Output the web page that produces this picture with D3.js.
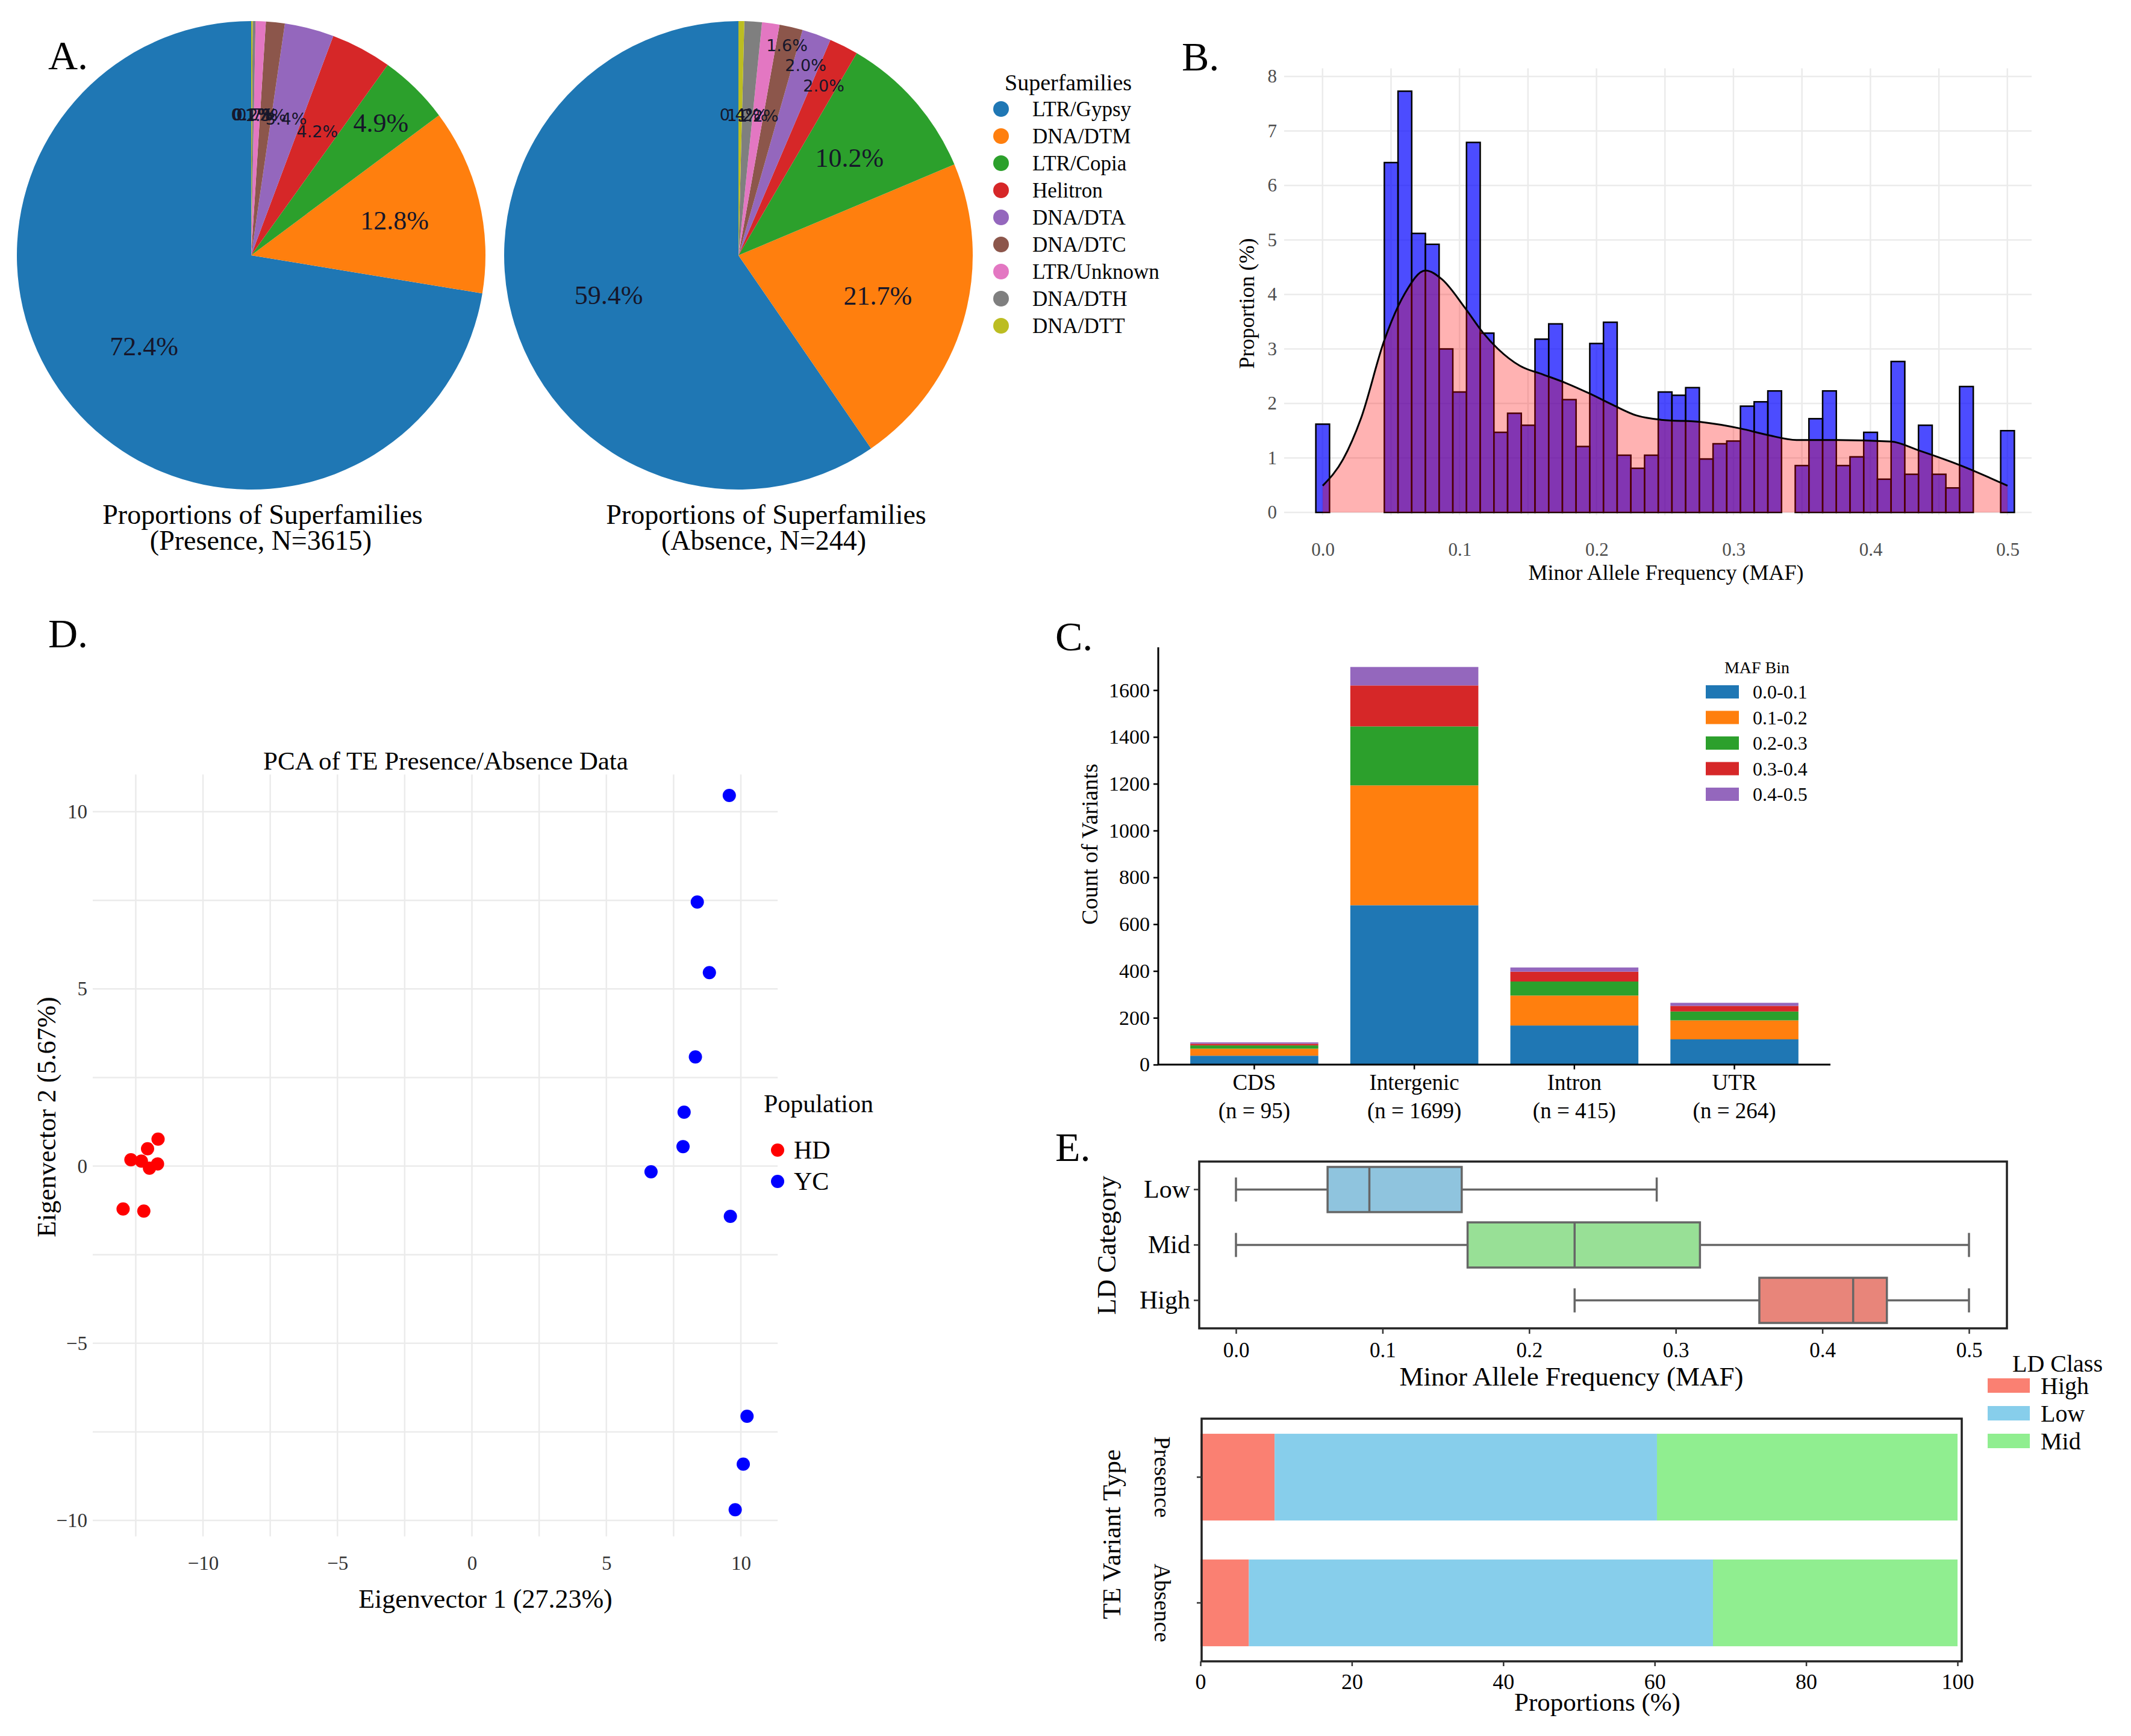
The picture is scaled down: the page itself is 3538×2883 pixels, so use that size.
<!DOCTYPE html>
<html>
<head>
<meta charset="utf-8">
<script src="https://cdn.jsdelivr.net/npm/d3@7"></script>
<style>
  body { margin: 0; background: #fff; }
  svg { display: block; font-family: "Liberation Serif", "Times New Roman", serif; }
</style>
</head>
<body>
<svg id="fig" width="3538" height="2883"></svg>
<script>
// **** data ****

// A. superfamily proportions (%)
var superfamilies = ['LTR/Gypsy', 'DNA/DTM', 'LTR/Copia', 'Helitron', 'DNA/DTA', 'DNA/DTC', 'LTR/Unknown', 'DNA/DTH', 'DNA/DTT'];
var presencePct = [72.4, 12.8, 4.9, 4.2, 3.4, 1.3, 0.7, 0.2, 0.1];
var absencePct = [59.4, 21.7, 10.2, 2.0, 2.0, 1.6, 1.2, 1.2, 0.4];

// B. MAF histogram (bin centres, proportion %) and density curve
var mafBins = [0.00, 0.01, 0.02, 0.03, 0.04, 0.05, 0.06, 0.07, 0.08, 0.09,
               0.10, 0.11, 0.12, 0.13, 0.14, 0.15, 0.16, 0.17, 0.18, 0.19,
               0.20, 0.21, 0.22, 0.23, 0.24, 0.25, 0.26, 0.27, 0.28, 0.29,
               0.30, 0.31, 0.32, 0.33, 0.34, 0.35, 0.36, 0.37, 0.38, 0.39,
               0.40, 0.41, 0.42, 0.43, 0.44, 0.45, 0.46, 0.47, 0.48, 0.49, 0.50];
var mafProp = [1.62, 0, 0, 0, 0, 6.42, 7.73, 5.12, 4.92, 3.00,
               2.21, 6.79, 3.29, 1.47, 1.82, 1.60, 3.18, 3.46, 2.07, 1.21,
               3.10, 3.49, 1.05, 0.81, 1.05, 2.21, 2.15, 2.29, 0.98, 1.26,
               1.31, 1.95, 2.03, 2.23, 0, 0.86, 1.72, 2.23, 0.86, 1.02,
               1.47, 0.61, 2.77, 0.70, 1.60, 0.70, 0.45, 2.31, 0, 0, 1.50];
var densX = [0, 0.015, 0.028, 0.045, 0.060, 0.075, 0.087, 0.104, 0.117, 0.128, 0.144, 0.161, 0.178,
             0.195, 0.212, 0.229, 0.247, 0.276, 0.305, 0.325, 0.346, 0.376, 0.415, 0.435, 0.467, 0.500];
var densY = [0.49, 0.98, 1.73, 3.16, 4.02, 4.44, 4.28, 3.75, 3.30, 3.00, 2.69, 2.53, 2.37,
             2.18, 1.97, 1.78, 1.70, 1.66, 1.54, 1.42, 1.33, 1.33, 1.30, 1.14, 0.85, 0.49];

// C. variant counts per region and MAF bin
var regions = ['CDS', 'Intergenic', 'Intron', 'UTR'];
var regionN = [95, 1699, 415, 264];
var mafBinNames = ['0.0-0.1', '0.1-0.2', '0.2-0.3', '0.3-0.4', '0.4-0.5'];
var countCDS = [38, 30, 14, 7, 6];
var countIntergenic = [681, 512, 252, 175, 79];
var countIntron = [167, 128, 60, 42, 18];
var countUTR = [108, 81, 38, 24, 13];

// D. PCA scores
var hdPC1 = [-12.68, -12.06, -11.67, -12.29, -11.99, -11.69, -12.97, -12.20];
var hdPC2 = [0.18, 0.49, 0.76, 0.14, -0.06, 0.06, -1.21, -1.27];
var ycPC1 = [9.57, 8.38, 8.83, 8.31, 7.89, 7.85, 6.66, 9.61, 10.23, 10.09, 9.79];
var ycPC2 = [10.46, 7.45, 5.46, 3.08, 1.52, 0.55, -0.16, -1.42, -7.06, -8.41, -9.70];

// E. MAF by LD category (box stats) and LD class proportions
var ldCats = ['Low', 'Mid', 'High'];
var ldMin = [0, 0, 0.231];
var ldQ1 = [0.0625, 0.158, 0.357];
var ldMed = [0.091, 0.231, 0.421];
var ldQ3 = [0.154, 0.3165, 0.444];
var ldMax = [0.287, 0.5, 0.5];
var teTypes = ['Presence', 'Absence'];
var ldClasses = ['High', 'Low', 'Mid'];
var presenceLD = [9.8, 50.5, 39.7];
var absenceLD = [6.4, 61.3, 32.3];

// **** styles ****
var tab10 = ['#1f77b4', '#ff7f0e', '#2ca02c', '#d62728', '#9467bd', '#8c564b', '#e377c2', '#7f7f7f', '#bcbd22'];
var ldColors = {High: '#fa8072', Low: '#87ceeb', Mid: '#90ee90'};
var boxColors = {Low: '#8fc4de', Mid: '#98e096', High: '#e8857a'};
var SERIF = '"Liberation Serif", "Times New Roman", serif';
var SANS = '"DejaVu Sans", sans-serif';

var svg = d3.select('#fig');
svg.append('rect').attr('width', 3538).attr('height', 2883).attr('fill', '#fff');

function label(txt, x, y, size, opts) {
    opts = opts || {};
    var t = svg.append('text')
        .attr('x', x).attr('y', y)
        .attr('font-size', size)
        .attr('fill', opts.fill || '#000')
        .attr('text-anchor', opts.anchor || 'start')
        .text(txt);
    if (opts.rotate) {
        t.attr('x', 0).attr('y', 0)
         .attr('transform', 'translate(' + x + ',' + y + ') rotate(' + opts.rotate + ')');
    }
    if (opts.central) t.attr('dominant-baseline', 'central');
    return t;
}

// panel letters
label('A.', 80, 115, 68);
label('B.', 1962, 117, 68);
label('C.', 1752, 1080, 68);
label('D.', 80, 1075, 68);
label('E.', 1752, 1928, 68);

// **** A. pies ****
var pie = d3.pie().sort(null).startAngle(0).endAngle(-2 * Math.PI);
var presLabelR = [0.6, 0.63, 0.79, 0.6, 0.6, 0.6, 0.6, 0.6, 0.6];
var absLabelR = [0.58, 0.62, 0.63, 0.81, 0.86, 0.92, 0.6, 0.6, 0.6];

function drawPie(cx, cy, r, pct, labelR) {
    var g = svg.append('g').attr('transform', 'translate(' + cx + ',' + cy + ')');
    var arcs = pie(pct);
    var arc = d3.arc().innerRadius(0).outerRadius(r);
    g.selectAll('path').data(arcs).enter().append('path')
        .attr('d', arc)
        .attr('fill', function (d, i) { return tab10[i]; });
    // small slices keep their crowded labels, as in the original
    g.selectAll('text').data(arcs).enter().append('text')
        .attr('x', function (d, i) { return Math.sin((d.startAngle + d.endAngle) / 2) * r * labelR[i]; })
        .attr('y', function (d, i) { return -Math.cos((d.startAngle + d.endAngle) / 2) * r * labelR[i]; })
        .attr('text-anchor', 'middle')
        .attr('dominant-baseline', 'central')
        .style('font-family', function (d, i) { return i < 3 ? SERIF : SANS; })
        .attr('font-size', function (d, i) { return i < 3 ? 44 : 27; })
        .attr('fill', '#16162a')
        .text(function (d) { return d3.format('.1f')(d.data) + '%'; });
}
drawPie(417, 424, 389, presencePct, presLabelR);
drawPie(1226, 424, 389, absencePct, absLabelR);

label('Proportions of Superfamilies', 436, 870, 46, {anchor: 'middle'});
label('(Presence, N=3615)', 433, 913, 46, {anchor: 'middle'});
label('Proportions of Superfamilies', 1272, 870, 46, {anchor: 'middle'});
label('(Absence, N=244)', 1268, 913, 46, {anchor: 'middle'});

// legend
label('Superfamilies', 1668, 150, 38);
var legA = svg.append('g');
superfamilies.forEach(function (name, i) {
    var y = 181 + i * 45;
    legA.append('circle').attr('cx', 1662).attr('cy', y).attr('r', 13).attr('fill', tab10[i]);
    legA.append('text').attr('x', 1714).attr('y', y).attr('dominant-baseline', 'central')
        .attr('font-size', 35).text(name);
});

// **** B. histogram ****
var bx = d3.scaleLinear().domain([0, 0.5]).range([2196, 3333]);
var by = d3.scaleLinear().domain([0, 8]).range([851, 127]);
var gB = svg.append('g');
d3.range(-0.0001, 0.51, 0.05).forEach(function (v) {
    gB.append('line').attr('x1', bx(v)).attr('x2', bx(v)).attr('y1', by(-0.05)).attr('y2', by(8.15))
        .attr('stroke', '#ebebeb').attr('stroke-width', 2.5);
});
d3.range(0, 9).forEach(function (v) {
    gB.append('line').attr('x1', 2132).attr('x2', 3373).attr('y1', by(v)).attr('y2', by(v))
        .attr('stroke', '#ebebeb').attr('stroke-width', 2.5);
});
var binW = bx(0.01) - bx(0);
mafProp.forEach(function (v, i) {
    if (v <= 0) return;
    gB.append('rect')
        .attr('x', bx(mafBins[i]) - binW / 2)
        .attr('y', by(v))
        .attr('width', binW)
        .attr('height', by(0) - by(v))
        .attr('fill', 'rgba(0,0,255,0.7)')
        .attr('stroke', '#000').attr('stroke-width', 2.5);
});
var dens = densX.map(function (x, i) { return [x, densY[i]]; });
gB.append('path').datum(dens)
    .attr('d', d3.area().x(function (d) { return bx(d[0]); }).y0(by(0)).y1(function (d) { return by(d[1]); }).curve(d3.curveMonotoneX))
    .attr('fill', 'rgba(255,0,0,0.3)');
gB.append('path').datum(dens)
    .attr('d', d3.line().x(function (d) { return bx(d[0]); }).y(function (d) { return by(d[1]); }).curve(d3.curveMonotoneX))
    .attr('fill', 'none').attr('stroke', '#000').attr('stroke-width', 3);

var axBx = gB.append('g').attr('transform', 'translate(0,' + (by(0) + 12) + ')')
    .call(d3.axisBottom(bx).tickValues([0, 0.1, 0.2, 0.3, 0.4, 0.5]).tickFormat(d3.format('.1f')).tickSize(0).tickPadding(38));
var axBy = gB.append('g').attr('transform', 'translate(2120,0)')
    .call(d3.axisLeft(by).tickValues(d3.range(0, 9)).tickSize(0).tickPadding(0));
[axBx, axBy].forEach(function (a) {
    a.select('.domain').remove();
    a.selectAll('text').attr('font-size', 31).attr('fill', '#4d4d4d').style('font-family', SERIF);
});
label('Minor Allele Frequency (MAF)', 2766, 963, 36, {anchor: 'middle'});
label('Proportion (%)', 2082, 504, 36, {anchor: 'middle', rotate: -90});

// **** C. stacked bars ****
var cx = d3.scaleBand().domain(regions).range([1923, 3039]).paddingInner(0.2).paddingOuter(0.2);
var cy = d3.scaleLinear().domain([0, 1783]).range([1768, 1075]);
var countRows = [countCDS, countIntergenic, countIntron, countUTR];
var tableC = regions.map(function (r, i) {
    var o = {region: r};
    mafBinNames.forEach(function (b, j) { o[b] = countRows[i][j]; });
    return o;
});
var stackC = d3.stack().keys(mafBinNames)(tableC);
var gC = svg.append('g');
gC.selectAll('g.layer').data(stackC).enter().append('g')
    .attr('fill', function (d, i) { return tab10[i]; })
    .selectAll('rect').data(function (d) { return d; }).enter().append('rect')
    .attr('x', function (d) { return cx(d.data.region); })
    .attr('width', cx.bandwidth())
    .attr('y', function (d) { return cy(d[1]); })
    .attr('height', function (d) { return cy(d[0]) - cy(d[1]); });

var axCy = gC.append('g').attr('transform', 'translate(1923,0)')
    .call(d3.axisLeft(cy).tickValues(d3.range(0, 1601, 200)).tickFormat(d3.format('d')).tickSize(8).tickPadding(6));
axCy.select('.domain').attr('d', 'M0,1075V1768').attr('stroke-width', 3);
var axCx = gC.append('g').attr('transform', 'translate(0,1768)')
    .call(d3.axisBottom(cx).tickSize(8).tickFormat(''));
axCx.select('.domain').attr('d', 'M1923,0H3039').attr('stroke-width', 3);
[axCy, axCx].forEach(function (a) {
    a.selectAll('line').attr('stroke-width', 2.5);
    a.selectAll('text').attr('font-size', 34).attr('fill', '#000').style('font-family', SERIF);
});
regions.forEach(function (r, i) {
    var x = cx(r) + cx.bandwidth() / 2;
    label(r, x, 1810, 37, {anchor: 'middle'});
    label('(n = ' + regionN[i] + ')', x, 1857, 37, {anchor: 'middle'});
});
label('Count of Variants', 1822, 1402, 38, {anchor: 'middle', rotate: -90});
label('MAF Bin', 2917, 1118, 28, {anchor: 'middle'});
mafBinNames.forEach(function (b, i) {
    var y = 1149 + i * 42.5;
    gC.append('rect').attr('x', 2832).attr('y', y - 11).attr('width', 55).attr('height', 22).attr('fill', tab10[i]);
    gC.append('text').attr('x', 2910).attr('y', y).attr('dominant-baseline', 'central').attr('font-size', 32).text(b);
});

// **** D. PCA ****
var dx = d3.scaleLinear().domain([-10, 10]).range([337, 1230]);
var dy = d3.scaleLinear().domain([-10, 10]).range([2525, 1348]);
var gD = svg.append('g');
d3.range(-12.5, 10.01, 2.5).forEach(function (v) {
    gD.append('line').attr('x1', dx(v)).attr('x2', dx(v)).attr('y1', dy(-10.45)).attr('y2', dy(11.05))
        .attr('stroke', '#ebebeb').attr('stroke-width', 2.5);
});
d3.range(-10, 10.01, 2.5).forEach(function (v) {
    gD.append('line').attr('x1', dx(-14.1)).attr('x2', dx(11.37)).attr('y1', dy(v)).attr('y2', dy(v))
        .attr('stroke', '#ebebeb').attr('stroke-width', 2.5);
});
hdPC1.forEach(function (v, i) {
    gD.append('circle').attr('cx', dx(v)).attr('cy', dy(hdPC2[i])).attr('r', 11).attr('fill', '#ff0000');
});
ycPC1.forEach(function (v, i) {
    gD.append('circle').attr('cx', dx(v)).attr('cy', dy(ycPC2[i])).attr('r', 11).attr('fill', '#0000ff');
});
function minusFmt(d) { return d < 0 ? '\u2212' + (-d) : d; }
var axDx = gD.append('g').attr('transform', 'translate(0,' + dy(-10.45) + ')')
    .call(d3.axisBottom(dx).tickValues([-10, -5, 0, 5, 10]).tickFormat(minusFmt).tickSize(0).tickPadding(32));
var axDy = gD.append('g').attr('transform', 'translate(145,0)')
    .call(d3.axisLeft(dy).tickValues([-10, -5, 0, 5, 10]).tickFormat(minusFmt).tickSize(0).tickPadding(0));
[axDx, axDy].forEach(function (a) {
    a.select('.domain').remove();
    a.selectAll('text').attr('font-size', 33).attr('fill', '#333').style('font-family', SERIF);
});
label('PCA of TE Presence/Absence Data', 740, 1278, 43, {anchor: 'middle'});
label('Eigenvector 1 (27.23%)', 806, 2670, 44, {anchor: 'middle'});
label('Eigenvector 2 (5.67%)', 92, 1855, 44, {anchor: 'middle', rotate: -90});
label('Population', 1268, 1847, 42);
[['HD', '#ff0000'], ['YC', '#0000ff']].forEach(function (p, i) {
    var y = 1910 + i * 52;
    gD.append('circle').attr('cx', 1291).attr('cy', y).attr('r', 11).attr('fill', p[1]);
    gD.append('text').attr('x', 1318).attr('y', y).attr('dominant-baseline', 'central').attr('font-size', 42).text(p[0]);
});

// **** E. boxplot ****
var ex = d3.scaleLinear().domain([0, 0.5]).range([2052, 3269]);
var ey = d3.scaleBand().domain(ldCats).range([1929, 2206]).paddingInner(0.19).paddingOuter(0.1);
var gE = svg.append('g');
var boxH = 75;
function ln(x1, y1, x2, y2) {
    gE.append('line').attr('x1', x1).attr('y1', y1).attr('x2', x2).attr('y2', y2)
        .attr('stroke', '#666').attr('stroke-width', 3.5);
}
ldCats.forEach(function (c, i) {
    var yc = ey(c) + ey.bandwidth() / 2;
    ln(ex(ldMin[i]), yc, ex(ldQ1[i]), yc);
    ln(ex(ldQ3[i]), yc, ex(ldMax[i]), yc);
    ln(ex(ldMin[i]), yc - 20, ex(ldMin[i]), yc + 20);
    ln(ex(ldMax[i]), yc - 20, ex(ldMax[i]), yc + 20);
    gE.append('rect').attr('x', ex(ldQ1[i])).attr('y', yc - boxH / 2)
        .attr('width', ex(ldQ3[i]) - ex(ldQ1[i])).attr('height', boxH)
        .attr('fill', boxColors[c]).attr('stroke', '#666').attr('stroke-width', 3.5);
    ln(ex(ldMed[i]), yc - boxH / 2, ex(ldMed[i]), yc + boxH / 2);
});
gE.append('rect').attr('x', 1991).attr('y', 1929).attr('width', 1341).attr('height', 277)
    .attr('fill', 'none').attr('stroke', '#222').attr('stroke-width', 3.5);
var axEx = gE.append('g').attr('transform', 'translate(0,2206)')
    .call(d3.axisBottom(ex).tickValues([0, 0.1, 0.2, 0.3, 0.4, 0.5]).tickFormat(d3.format('.1f')).tickSize(9).tickPadding(14));
var axEy = gE.append('g').attr('transform', 'translate(1991,0)')
    .call(d3.axisLeft(ey).tickSize(9).tickPadding(6));
[axEx, axEy].forEach(function (a) {
    a.select('.domain').remove();
    a.selectAll('line').attr('stroke', '#333').attr('stroke-width', 2.5);
});
axEx.selectAll('text').attr('font-size', 35).attr('fill', '#000').style('font-family', SERIF);
axEy.selectAll('text').attr('font-size', 42).attr('fill', '#000').style('font-family', SERIF);
label('Minor Allele Frequency (MAF)', 2609, 2301, 45, {anchor: 'middle'});
label('LD Category', 1852, 2068, 44, {anchor: 'middle', rotate: -90});

// **** E. stacked proportions ****
var fx = d3.scaleLinear().domain([0, 100]).range([1993, 3250]);
var fy = d3.scaleBand().domain(teTypes).range([2356, 2759]).paddingInner(0.31).paddingOuter(0.12);
var ldRows = [presenceLD, absenceLD];
var tableE = teTypes.map(function (t, i) {
    var o = {type: t};
    ldClasses.forEach(function (c, j) { o[c] = ldRows[i][j]; });
    return o;
});
var stackE = d3.stack().keys(ldClasses)(tableE);
var gF = svg.append('g');
gF.selectAll('g.layer').data(stackE).enter().append('g')
    .attr('fill', function (d) { return ldColors[d.key]; })
    .selectAll('rect').data(function (d) { return d; }).enter().append('rect')
    .attr('x', function (d) { return fx(d[0]); })
    .attr('width', function (d) { return fx(d[1]) - fx(d[0]); })
    .attr('y', function (d) { return fy(d.data.type); })
    .attr('height', fy.bandwidth());
gF.append('rect').attr('x', 1995).attr('y', 2356).attr('width', 1262).attr('height', 403)
    .attr('fill', 'none').attr('stroke', '#222').attr('stroke-width', 3.5);
var axFx = gF.append('g').attr('transform', 'translate(0,2759)')
    .call(d3.axisBottom(fx).tickValues([0, 20, 40, 60, 80, 100]).tickSize(8).tickPadding(12));
var axFy = gF.append('g').attr('transform', 'translate(1995,0)')
    .call(d3.axisLeft(fy).tickSize(8).tickFormat(''));
[axFx, axFy].forEach(function (a) {
    a.select('.domain').remove();
    a.selectAll('line').attr('stroke', '#333').attr('stroke-width', 2.5);
    a.selectAll('text').attr('font-size', 36).attr('fill', '#000').style('font-family', SERIF);
});
teTypes.forEach(function (t) {
    label(t, 1930, fy(t) + fy.bandwidth() / 2, 38, {anchor: 'middle', rotate: 90, central: true});
});
label('Proportions (%)', 2652, 2841, 43, {anchor: 'middle'});
label('TE Variant Type', 1860, 2548, 43, {anchor: 'middle', rotate: -90});
label('LD Class', 3341, 2278, 40);
ldClasses.forEach(function (c, i) {
    var y = 2301 + i * 46;
    gF.append('rect').attr('x', 3300).attr('y', y - 12).attr('width', 70).attr('height', 24).attr('fill', ldColors[c]);
    gF.append('text').attr('x', 3388).attr('y', y).attr('dominant-baseline', 'central').attr('font-size', 40).text(c);
});
</script>
</body>
</html>
